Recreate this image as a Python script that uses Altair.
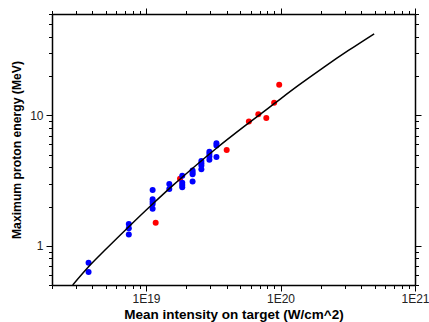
import altair as alt
import pandas as pd

# Blue data points (Mean intensity W/cm^2, Max proton energy MeV)
blue_x = [3.74e18, 3.74e18,
          7.45e18, 7.45e18, 7.45e18,
          1.12e19, 1.12e19, 1.12e19, 1.12e19, 1.12e19,
          1.49e19, 1.49e19,
          1.86e19, 1.86e19, 1.86e19, 1.86e19,
          2.22e19, 2.22e19, 2.22e19, 2.22e19,
          2.58e19, 2.58e19, 2.58e19, 2.58e19,
          2.96e19, 2.96e19, 2.96e19, 2.96e19,
          3.34e19, 3.34e19, 3.34e19]
blue_y = [0.74, 0.63,
          1.47, 1.36, 1.22,
          2.68, 2.27, 2.18, 2.09, 1.92,
          2.98, 2.72,
          3.45, 3.05, 2.93, 2.81,
          3.78, 3.65, 3.54, 3.11,
          4.48, 4.30, 4.12, 3.87,
          5.26, 5.05, 4.84, 4.56,
          6.13, 5.88, 4.79]

# Red data points
red_x = [1.18e19, 1.79e19, 3.98e19, 5.82e19, 6.84e19, 7.84e19, 8.97e19, 9.78e19]
red_y = [1.5, 3.26, 5.42, 9.0, 10.2, 9.55, 12.5, 17.2]

# Model curve
curve_x = [2.85e18, 3.74e18, 5e18, 7.45e18, 1.12e19, 1.6e19, 2.3e19,
           3.34e19, 5.82e19, 8.97e19, 1.35e20, 2.12e20, 3.2e20, 4.97e20]
curve_y = [0.50, 0.69, 0.935, 1.40, 2.09, 2.93, 4.06,
           5.60, 8.77, 12.3, 16.9, 23.6, 31.5, 42.3]

# Axis tick values
x_ticks = [m * 10.0 ** e for e in (18, 19, 20) for m in range(1, 10) if m * 10.0 ** e >= 2e18] + [1e21]
y_ticks = [m * 10.0 ** e for e in (-1, 0, 1) for m in range(1, 10) if 0.5 <= m * 10.0 ** e <= 60]

blue = pd.DataFrame({"x": blue_x, "y": blue_y})
red = pd.DataFrame({"x": red_x, "y": red_y})
curve = pd.DataFrame({"x": curve_x, "y": curve_y})

major = "abs(log(datum.value)/LN10 - round(log(datum.value)/LN10)) < 0.001"
tick_size = {"condition": {"test": major, "value": 6}, "value": 3.5}

xscale = alt.Scale(type="log", domain=[2e18, 1e21], nice=False)
yscale = alt.Scale(type="log", domain=[0.5, 60], nice=False)

common = dict(grid=False, domainColor="black", domainWidth=1.5, tickColor="black",
              tickWidth=1, tickSize=tick_size, labelFont="Liberation Sans",
              labelFontSize=12, labelColor="#222222")

x_bottom = alt.Axis(orient="bottom", values=x_ticks,
                    labelExpr=f"({major}) ? '1E' + round(log(datum.value)/LN10) : ''",
                    title="Mean intensity on target (W/cm^2)", titleFont="Liberation Sans",
                    titleFontSize=13.5, titleFontWeight="bold", titleColor="black",
                    labelPadding=2, titlePadding=3, labelOverlap=False, labelFlush=False,
                    **common)
y_left = alt.Axis(orient="left", values=y_ticks,
                  labelExpr=f"({major}) ? format(datum.value, 'd') : ''",
                  title="Maximum proton energy (MeV)", titleFont="Liberation Sans",
                  titleFontSize=12.2, titleFontWeight="bold", titleColor="black",
                  labelPadding=3, titlePadding=6, labelOverlap=False, **common)
x_top = alt.Axis(orient="top", values=x_ticks, labels=False, title=None, **common)
y_right = alt.Axis(orient="right", values=y_ticks, labels=False, title=None, **common)

red_layer = alt.Chart(red).mark_circle(size=36, color="#FF0000", opacity=1).encode(
    x=alt.X("x:Q", scale=xscale, axis=x_bottom),
    y=alt.Y("y:Q", scale=yscale, axis=y_left),
)
blue_layer = alt.Chart(blue).mark_circle(size=36, color="#0000FF", opacity=1).encode(
    x=alt.X("x:Q", scale=xscale, axis=x_top),
    y=alt.Y("y:Q", scale=yscale, axis=y_right),
)
line_layer = alt.Chart(curve).mark_line(color="black", strokeWidth=1.5,
                                        interpolate="monotone", clip=True).encode(
    x=alt.X("x:Q", scale=xscale, axis=None),
    y=alt.Y("y:Q", scale=yscale, axis=None),
)

chart = alt.layer(red_layer, blue_layer, line_layer).resolve_axis(
    x="independent", y="independent"
).properties(
    width=363, height=271,
    autosize=alt.AutoSizeParams(type="none"),
    padding={"left": 52, "top": 14, "right": 14, "bottom": 37},
    background="white",
).configure_view(stroke=None)

chart.save("out.html", embed_options={"renderer": "svg", "actions": False})
